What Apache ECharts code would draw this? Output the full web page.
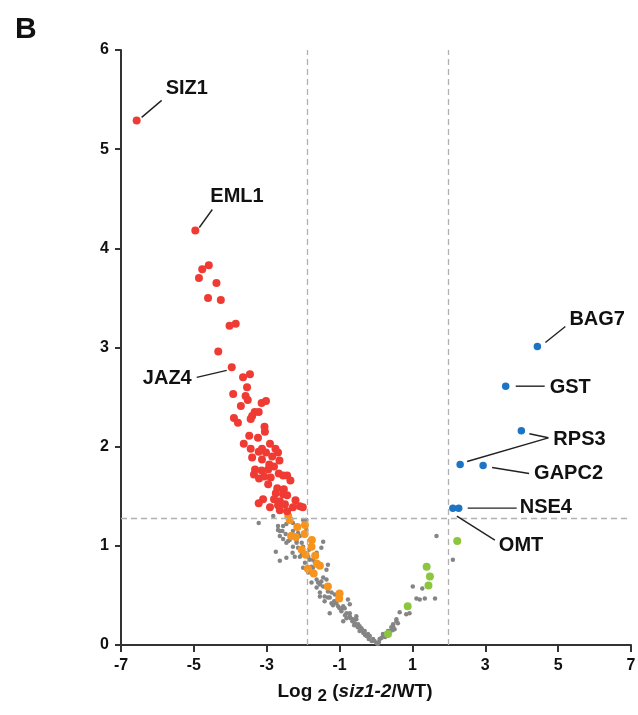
<!DOCTYPE html>
<html>
<head>
<meta charset="utf-8">
<script src="https://cdn.jsdelivr.net/npm/echarts@6/dist/echarts.min.js"></script>
<style>html,body{margin:0;padding:0;background:#fff;}#c{width:638px;height:715px;}</style>
</head>
<body>
<div id="c"></div>
<script>
// ---- data (log2 fold change, -log10 p) ----
const xTicks = [-7, -5, -3, -1, 1, 3, 5, 7];
const yTicks = [0, 1, 2, 3, 4, 5, 6];
const thresholdX = [-1.88, 1.97];
const thresholdY = 1.28;

const geneNames = ['SIZ1', 'EML1', 'JAZ4', 'BAG7', 'GST', 'RPS3', 'RPS3', 'GAPC2', 'NSE4', 'OMT'];
const geneX = [-6.57, -4.96, -3.96, 4.43, 3.56, 3.99, 2.31, 2.94, 2.27, 2.11];
const geneY = [5.29, 4.18, 2.80, 3.01, 2.61, 2.16, 1.82, 1.81, 1.38, 1.38];
const geneGroup = ['down', 'down', 'down', 'up', 'up', 'up', 'up', 'up', 'up', 'up'];

const redPoints = [
  [-4.59,3.83],[-4.77,3.79],[-4.86,3.70],[-4.38,3.65],[-4.61,3.50],[-4.26,3.48],[-4.02,3.22],[-3.85,3.24],
  [-4.33,2.96],[-3.65,2.70],[-3.46,2.73],[-3.54,2.60],[-3.92,2.53],[-3.58,2.51],[-3.52,2.47],[-3.71,2.41],
  [-3.14,2.44],[-3.02,2.46],[-3.33,2.35],[-3.22,2.35],[-3.40,2.31],[-3.44,2.28],[-3.90,2.29],[-3.79,2.24],
  [-3.06,2.20],[-3.05,2.15],[-3.48,2.11],[-3.24,2.09],[-3.63,2.03],[-3.44,1.98],[-2.91,2.03],[-3.13,1.98],
  [-2.76,1.98],[-3.22,1.95],[-3.02,1.94],[-2.69,1.94],[-3.40,1.89],[-3.13,1.87],[-2.85,1.90],[-2.65,1.86],
  [-2.93,1.82],[-2.80,1.80],[-3.32,1.77],[-3.14,1.76],[-2.96,1.77],[-2.67,1.73],[-2.44,1.71],[-3.35,1.72],
  [-3.21,1.68],[-3.07,1.70],[-2.89,1.69],[-2.55,1.71],[-2.35,1.66],[-2.96,1.62],[-2.71,1.58],[-2.53,1.57],
  [-2.75,1.53],[-2.55,1.52],[-2.44,1.51],[-3.10,1.47],[-3.22,1.43],[-2.80,1.47],[-2.64,1.45],[-2.21,1.46],
  [-2.91,1.39],[-2.69,1.41],[-2.50,1.42],[-2.09,1.40],[-2.64,1.36],[-2.44,1.35],[-2.28,1.39],[-2.01,1.39]
];

const orangePoints = [
  [-2.41,1.30],[-2.37,1.26],[-2.16,1.19],[-1.95,1.21],[-2.33,1.10],[-2.20,1.09],[-1.96,1.12],[-1.76,1.06],
  [-2.04,0.96],[-1.93,0.91],[-1.77,0.99],[-1.67,0.90],[-1.62,0.82],[-1.54,0.80],[-1.87,0.77],[-1.71,0.72],
  [-1.32,0.59],[-1.00,0.52],[-1.01,0.47]
];

const greenPoints = [
  [2.23,1.05],[1.39,0.79],[1.48,0.69],[1.44,0.60],[0.87,0.39],[0.33,0.11]
];

const grayPoints = [
  [1.66,1.10],[2.11,0.86],[1.01,0.59],[1.27,0.57],[1.11,0.47],[1.34,0.47],[1.62,0.47],[1.20,0.46],
  [0.65,0.33],[0.83,0.31],[0.92,0.32],[0.56,0.26],[0.47,0.21],[0.60,0.22],[0.51,0.16],[0.39,0.14],
  [0.19,0.09],[0.10,0.06],[-0.08,0.06],[0.01,0.02],[0.56,0.24],[0.47,0.19],[0.33,0.14],[0.15,0.07],
  [0.19,0.11],[0.29,0.12],[0.25,0.08],[0.30,0.10],[0.42,0.18],[0.45,0.15],[0.05,0.01],[0.08,0.03],
  [-2.82,1.30],[-3.22,1.23],[-2.69,1.20],[-2.46,1.22],[-2.00,1.26],[-2.64,1.15],[-2.48,1.12],[-2.28,1.15],
  [-2.41,1.05],[-2.18,1.03],[-2.14,0.98],[-2.28,0.99],[-2.00,0.99],[-2.75,0.94],[-2.46,0.88],[-2.64,0.85],
  [-2.09,0.89],[-1.95,0.83],[-1.73,0.86],[-1.50,0.98],[-1.86,0.73],[-1.63,0.66],[-1.77,0.63],[-1.54,0.61],
  [-1.36,0.66],[-1.63,0.58],[-1.41,0.44],[-1.22,0.53],[-1.09,0.42],[-1.27,0.32],[-0.90,0.39],[-0.72,0.32],
  [-0.81,0.27],[-0.54,0.26],[-0.45,0.19],[-0.31,0.14],[-0.17,0.09],[-0.04,0.04],[-1.54,0.49],[-1.32,0.48],
  [-1.86,0.89],[-2.23,0.89],[-1.77,0.79],[-2.09,1.10],[-2.29,0.93],[-2.55,1.07],[-2.55,1.20],[-2.57,1.15],
  [-2.69,1.16],[-2.28,1.23],[-2.18,1.05],[-2.04,1.03],[-1.45,1.04],[-1.63,0.93],[-1.82,0.86],[-1.36,0.76],
  [-1.73,0.71],[-1.45,0.68],[-1.32,0.81],[-2.00,0.78],[-1.84,0.96],[-2.04,0.91],[-2.37,1.06],[-2.46,1.03],
  [-2.14,1.13],[-1.91,1.16],[-1.91,1.26],[-2.64,1.10],[-1.68,0.83],[-1.77,0.73],[-1.59,0.63],[-1.45,0.59],
  [-1.54,0.53],[-1.41,0.49],[-1.27,0.48],[-1.22,0.42],[-1.13,0.51],[-1.04,0.39],[-0.95,0.36],[-0.86,0.37],
  [-0.81,0.32],[-0.72,0.29],[-0.63,0.26],[-0.58,0.22],[-0.49,0.21],[-0.40,0.17],[-0.22,0.11],[-0.90,0.24],
  [-0.72,0.41],[-0.77,0.46],[-1.09,0.44],[-1.32,0.54],[-1.50,0.64],[-1.73,0.78],[-0.45,0.14],[-0.26,0.09],
  [-0.54,0.29],[-0.35,0.12],[-0.30,0.10],[-0.20,0.06],[-0.12,0.04],[-0.60,0.20],[-0.65,0.24],[-0.70,0.27],
  [-0.85,0.30],[-0.95,0.34],[-1.00,0.37],[-1.15,0.44],[-1.18,0.40],[-0.50,0.18],[-0.38,0.15]
];

// ---- annotation layout (pixel offsets from the point; style only) ----
const annotLayout = [
  { text: [29, -32, 'left'],  lines: [[5, -3, 25, -20]] },            // SIZ1
  { text: [15, -34, 'left'],  lines: [[4, -3, 17, -21]] },            // EML1
  { text: [-40, 11, 'right'], lines: [[-5, 3, -35, 10]] },            // JAZ4
  { text: [32, -27, 'left'],  lines: [[8, -4, 28, -20]] },            // BAG7
  { text: [44, 1, 'left'],    lines: [[10, 0, 39, 0]] },              // GST
  { text: [32, 9, 'left'],    lines: [[8, 3, 27, 7]] },               // RPS3 a
  { text: null,               lines: [[7, -3, 27, 7]], ref: 5 },      // RPS3 b -> to label of a
  { text: [51, 8, 'left'],    lines: [[9, 2, 46, 8]] },               // GAPC2
  { text: [61, -1, 'left'],   lines: [[9, 0, 58, 0]] },               // NSE4
  { text: [46, 37, 'left'],   lines: [[4, 8, 42, 32]] }               // OMT
];

const FONT = '"Liberation Sans", Arial, Helvetica, sans-serif';

const chart = echarts.init(document.getElementById('c'), null, { renderer: 'canvas' });

const downGenes = [], upGenes = [];
geneNames.forEach((n, i) => {
  (geneGroup[i] === 'down' ? downGenes : upGenes).push([geneX[i], geneY[i]]);
});

const option = {
  animation: false,
  backgroundColor: '#fff',
  title: {
    text: 'B', left: 10, top: 10,
    textStyle: { fontFamily: FONT, fontWeight: 'bold', fontSize: 30, color: '#111' }
  },
  grid: { left: 121, right: 7, top: 50, bottom: 70, outerBoundsMode: 'none', containLabel: false },
  xAxis: {
    type: 'value', min: xTicks[0], max: xTicks[xTicks.length - 1], interval: 2,
    axisLine: { onZero: false, lineStyle: { color: '#333', width: 2 } },
    axisTick: { show: true, length: 7, lineStyle: { color: '#333', width: 2 } },
    axisLabel: { margin: 13, fontFamily: FONT, fontWeight: 'bold', fontSize: 16, color: '#111',
      formatter: v => xTicks.includes(v) ? String(v) : '' },
    splitLine: { show: false },
    name: '{a|Log }{s|2}{a| (}{i|siz1-2}{a|/WT)}',
    nameLocation: 'middle', nameGap: 30,
    nameTextStyle: {
      padding: [0, 42, 0, 0],
      rich: {
        a: { fontFamily: FONT, fontWeight: 'bold', fontSize: 19, color: '#111', lineHeight: 26, verticalAlign: 'bottom' },
        s: { fontFamily: FONT, fontWeight: 'bold', fontSize: 17, color: '#111', lineHeight: 26, verticalAlign: 'bottom', padding: [0, 0, -4, 0] },
        i: { fontFamily: FONT, fontWeight: 'bold', fontStyle: 'italic', fontSize: 19, color: '#111', lineHeight: 26, verticalAlign: 'bottom' }
      }
    }
  },
  yAxis: {
    type: 'value', min: yTicks[0], max: yTicks[yTicks.length - 1], interval: 1,
    axisLine: { show: true, onZero: false, lineStyle: { color: '#333', width: 2 } },
    axisTick: { show: true, length: 6, lineStyle: { color: '#333', width: 2 } },
    axisLabel: { margin: 12, fontFamily: FONT, fontWeight: 'bold', fontSize: 16, color: '#111' },
    splitLine: { show: false }
  },
  series: [
    {
      type: 'scatter', name: 'ns', data: grayPoints, symbolSize: 4.5,
      itemStyle: { color: '#858585', opacity: 1 }, z: 2,
      markLine: {
        silent: true, symbol: 'none', label: { show: false },
        lineStyle: { color: '#b0b0b0', type: [6, 4], width: 1.3 },
        data: [{ xAxis: thresholdX[0] }, { xAxis: thresholdX[1] }, { yAxis: thresholdY }]
      }
    },
    { type: 'scatter', name: 'orange', data: orangePoints, symbolSize: 8, itemStyle: { color: '#f7941d', opacity: 1 }, z: 3 },
    { type: 'scatter', name: 'green', data: greenPoints, symbolSize: 8, itemStyle: { color: '#8cc63f', opacity: 1 }, z: 3 },
    { type: 'scatter', name: 'red', data: redPoints.concat(downGenes), symbolSize: 8, itemStyle: { color: '#ef3b33', opacity: 1 }, z: 4 },
    { type: 'scatter', name: 'blue', data: upGenes, symbolSize: 7.5, itemStyle: { color: '#1c75c4', opacity: 1 }, z: 4 },
    {
      type: 'custom', name: 'labels', z: 10, clip: false, silent: true,
      data: geneNames.map((n, i) => [geneX[i], geneY[i], i]),
      encode: { x: 0, y: 1 },
      renderItem: function (params, api) {
        const i = api.value(2);
        const p = api.coord([api.value(0), api.value(1)]);
        const L = annotLayout[i];
        const children = [];
        const target = L.ref !== undefined ? api.coord([geneX[L.ref], geneY[L.ref]]) : p;
        L.lines.forEach(s => {
          children.push({
            type: 'line',
            shape: { x1: p[0] + s[0], y1: p[1] + s[1], x2: target[0] + s[2], y2: target[1] + s[3] },
            style: { stroke: '#222', lineWidth: 1.4 }
          });
        });
        if (L.text) {
          children.push({
            type: 'text',
            style: {
              x: p[0] + L.text[0], y: p[1] + L.text[1],
              text: geneNames[i], fill: '#111',
              font: 'bold 20px ' + FONT,
              align: L.text[2], verticalAlign: 'middle',
              textAlign: L.text[2], textVerticalAlign: 'middle'
            }
          });
        }
        return { type: 'group', children: children };
      }
    }
  ]
};
chart.setOption(option);
</script>
</body>
</html>
